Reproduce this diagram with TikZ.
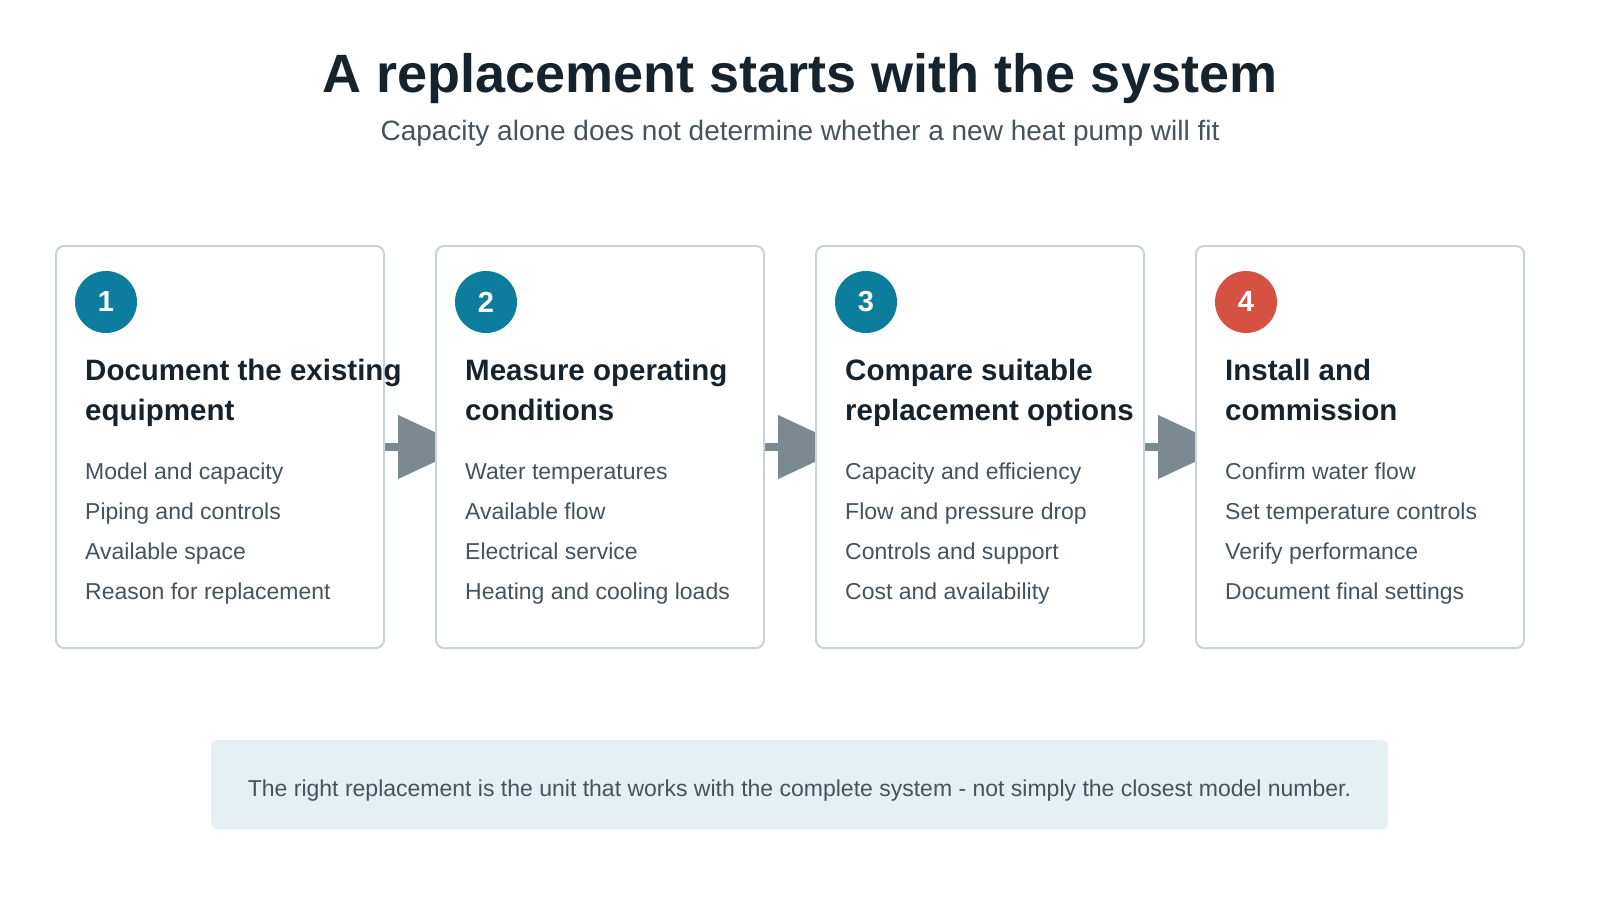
\documentclass[tikz,border=0pt]{standalone}
\usepackage{fontspec}
\setmainfont{Liberation Sans}
\usepackage{xcolor}
\usetikzlibrary{arrows.meta,backgrounds,calc}

\definecolor{inkdark}{HTML}{17232C}
\definecolor{inksoft}{HTML}{45535D}
\definecolor{framegray}{HTML}{C9D3D9}
\definecolor{arrowgray}{HTML}{7B8A91}
\definecolor{stepteal}{HTML}{0C7D9C}
\definecolor{stepred}{HTML}{D55142}
\definecolor{notefill}{HTML}{E6F0F4}

\tikzset{
	stepbox/.style={draw=framegray,line width=2pt,fill=white,rounded corners=8pt,minimum width=328pt,minimum height=402pt,inner sep=0pt},
	badge/.style={circle,minimum size=62pt,inner sep=0pt,text=white,font=\fontsize{29}{29}\selectfont\bfseries},
	steptitle/.style={anchor=base west,align=left,inner sep=0pt,text=inkdark,font=\fontsize{29.5}{40}\selectfont\bfseries},
	stepitem/.style={anchor=base west,inner sep=0pt,text=inksoft,font=\fontsize{23}{23}\selectfont},
	flow/.style={arrowgray,line width=8pt,-{Triangle[length=69pt,width=62pt]}},
}

\begin{document}
\begin{tikzpicture}[x=1pt,y=-1pt]
		\useasboundingbox (0,0) rectangle (1600,900);
		\node[anchor=base,inner sep=0pt,text=inkdark,font=\fontsize{54}{54}\selectfont\bfseries] (title) at (800,92.7) {A replacement starts with the system};
		\node[anchor=base,inner sep=0pt,text=inksoft,font=\fontsize{28}{28}\selectfont] (subtitle) at (800,140) {Capacity alone does not determine whether a new heat pump will fit};
		
		% step-number/colour/heading/items
		\foreach \i/\col/\head/\one/\two/\three/\four in {
			1/stepteal/{Document the existing\\equipment}/Model and capacity/Piping and controls/Available space/Reason for replacement,
			2/stepteal/{Measure operating\\conditions}/Water temperatures/Available flow/Electrical service/Heating and cooling loads,
			3/stepteal/{Compare suitable\\replacement options}/Capacity and efficiency/Flow and pressure drop/Controls and support/Cost and availability,
			4/stepred/{Install and\\commission}/Confirm water flow/Set temperature controls/Verify performance/Document final settings}
		{
			\node[stepbox] (b\i) at (220+380*\i-380,447) {};
			\node[badge,fill=\col] (n\i) at ($(b\i.north west)+(51,57)$) {\i};
			% base of a two-line heading is its last line
			\node[steptitle] (h\i) at ($(b\i.north west)+(30,175)$) {\head};
			\node[stepitem] (b\i-1) at ($(b\i.north west)+(30,234)$) {\one};
			\node[stepitem] (b\i-2) at ($(b\i.north west)+(30,274)$) {\two};
			\node[stepitem] (b\i-3) at ($(b\i.north west)+(30,314)$) {\three};
			\node[stepitem] (b\i-4) at ($(b\i.north west)+(30,354)$) {\four};
		}
		
		\begin{scope}[on background layer]
			\fill[white] (0,0) rectangle (1600,900);
			\foreach \i/\j in {1/2,2/3,3/4}
				\draw[flow] (b\i.east) -- ($(b\i.east)+(82,0)$);
		\end{scope}
		
		\node[fill=notefill,rounded corners=6pt,minimum width=1177pt,minimum height=89pt,text height=23pt,text depth=0pt,text=inksoft,font=\fontsize{23}{23}\selectfont] (note) at (799.5,784.5) {The right replacement is the unit that works with the complete system - not simply the closest model number.};
	\end{tikzpicture}
\end{document}
